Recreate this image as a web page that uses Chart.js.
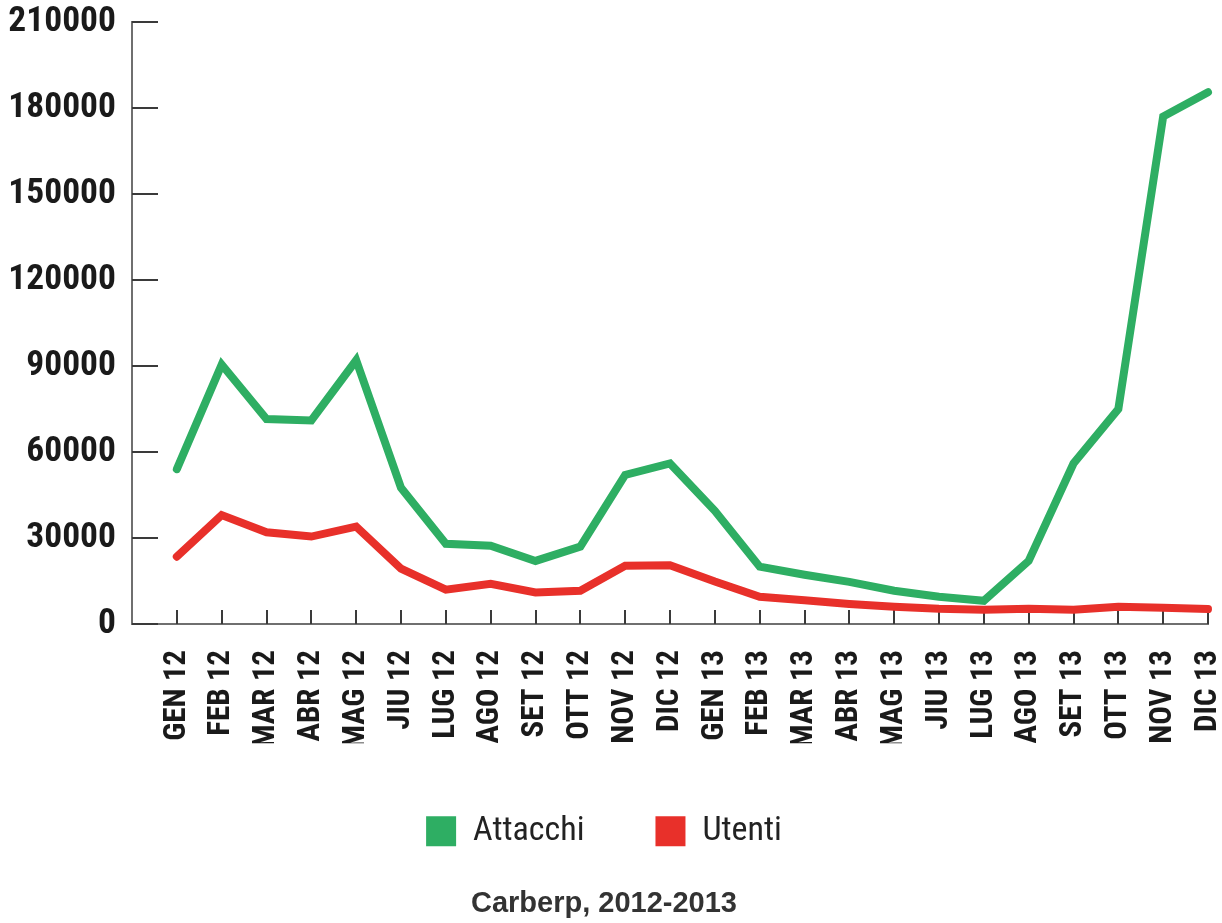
<!DOCTYPE html>
<html>
<head>
<meta charset="utf-8">
<script src="https://cdn.jsdelivr.net/npm/chart.js@4.4.1/dist/chart.umd.min.js"></script>
<style>
  html, body { margin: 0; padding: 0; background: #fff; }
  #wrap { width: 1222px; height: 923px; }
</style>
</head>
<body>
<div id="wrap"><canvas id="chart" width="1222" height="923"></canvas></div>
<script>
const months = [
  "GEN 12", "FEB 12", "MAR 12", "ABR 12", "MAG 12", "JIU 12", "LUG 12", "AGO 12",
  "SET 12", "OTT 12", "NOV 12", "DIC 12", "GEN 13", "FEB 13", "MAR 13", "ABR 13",
  "MAG 13", "JIU 13", "LUG 13", "AGO 13", "SET 13", "OTT 13", "NOV 13", "DIC 13"
];
const attacchi = [
  54000, 90500, 71500, 71000, 92000, 47500, 28000, 27300,
  22000, 27000, 52000, 56000, 39500, 20000, 17200, 14700,
  11600, 9500, 8100, 22000, 56000, 75000, 177000, 185500
];
const utenti = [
  23500, 38000, 32000, 30500, 34000, 19300, 12000, 14000,
  11000, 11600, 20300, 20500, 14800, 9500, 8300, 7000,
  6000, 5300, 5000, 5300, 5000, 6000, 5700, 5200
];
const yTicks = [0, 30000, 60000, 90000, 120000, 150000, 180000, 210000];

const green = "#2eae63";
const red = "#e8302a";
const axisColor = "#6f6f6f";
const narrow = "'Roboto Condensed', Roboto, 'DejaVu Sans', sans-serif";

// short tick marks drawn inward from both axis lines
const innerTicks = {
  id: "innerTicks",
  beforeDatasetsDraw(chart) {
    const { ctx, chartArea, scales } = chart;
    ctx.save();
    ctx.strokeStyle = "#3a3a3a";
    ctx.lineWidth = 2;
    ctx.beginPath();
    yTicks.forEach((v) => {
      const y = Math.round(scales.y.getPixelForValue(v));
      ctx.moveTo(chartArea.left, y);
      ctx.lineTo(chartArea.left + 26, y);
    });
    months.forEach((m, i) => {
      const x = Math.round(scales.x.getPixelForValue(i));
      ctx.moveTo(x, chartArea.bottom);
      ctx.lineTo(x, chartArea.bottom - 14);
    });
    ctx.stroke();
    ctx.restore();
  }
};

const lineStyle = {
  borderWidth: 8,
  borderCapStyle: "round",
  borderJoinStyle: "miter",
  pointRadius: 0,
  tension: 0,
  clip: false
};

const ctx = document.getElementById("chart").getContext("2d");
new Chart(ctx, {
  type: "line",
  data: {
    datasets: [
      Object.assign({
        label: "Attacchi",
        data: attacchi.map((v, i) => ({ x: i, y: v })),
        borderColor: green,
        backgroundColor: green
      }, lineStyle),
      Object.assign({
        label: "Utenti",
        data: utenti.map((v, i) => ({ x: i, y: v })),
        borderColor: red,
        backgroundColor: red
      }, lineStyle)
    ]
  },
  options: {
    responsive: false,
    animation: false,
    events: [],
    layout: { padding: { top: 22, right: 14, left: 0, bottom: 0 } },
    scales: {
      x: {
        type: "linear",
        min: -1,
        max: 23,
        grid: { display: false, drawTicks: false },
        border: { display: true, color: axisColor, width: 2 },
        afterFit(scale) {
          scale.height = 119.2;
          scale.paddingLeft = 0;
          scale.paddingRight = 0;
        },
        ticks: {
          stepSize: 1,
          autoSkip: false,
          minRotation: 90,
          maxRotation: 90,
          padding: 26,
          color: "#1a1a1a",
          font: { family: narrow, size: 31, weight: "bold condensed" },
          callback: (v) => months[v] || ""
        }
      },
      y: {
        min: 0,
        max: 210000,
        grid: { display: false, drawTicks: false },
        border: { display: true, color: axisColor, width: 2 },
        afterFit(scale) {
          scale.width = 132;
          scale.paddingTop = 0;
          scale.paddingBottom = 0;
        },
        ticks: {
          stepSize: 30000,
          padding: 16,
          color: "#1a1a1a",
          font: { family: narrow, size: 35.5, weight: "bold condensed" },
          callback: (v) => String(v)
        }
      }
    },
    plugins: {
      tooltip: { enabled: false },
      legend: {
        position: "bottom",
        labels: {
          boxWidth: 30,
          boxHeight: 30,
          padding: 71,
          color: "#222",
          font: { family: narrow, size: 34, weight: "condensed" },
          generateLabels(chart) {
            const items = Chart.defaults.plugins.legend.labels.generateLabels(chart);
            items.forEach((it) => { it.lineWidth = 0; it.strokeStyle = "rgba(0,0,0,0)"; });
            return items;
          }
        }
      },
      title: {
        display: true,
        position: "bottom",
        text: "Carberp, 2012-2013",
        color: "#333",
        padding: { top: 28, bottom: 2 },
        font: { family: "'Liberation Sans', Arial, sans-serif", size: 29, weight: "bold" }
      }
    }
  },
  plugins: [innerTicks]
});
</script>
</body>
</html>
